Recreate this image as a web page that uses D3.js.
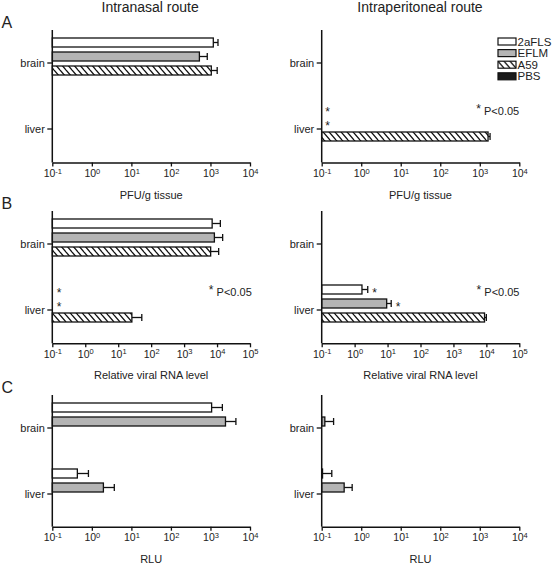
<!DOCTYPE html>
<html>
<head>
<meta charset="utf-8">
<script src="https://cdn.jsdelivr.net/npm/d3@7"></script>
<style>
  html, body { margin: 0; padding: 0; background: #fff; }
  svg { display: block; }
</style>
</head>
<body>
<svg id="chart" width="552" height="565"></svg>
<script>
// ---------------- DATA ----------------
const series = ["2aFLS", "EFLM", "A59", "PBS"];
const organs = ["brain", "liver"];
const routes = ["Intranasal route", "Intraperitoneal route"];
const panelLetters = ["A", "B", "C"];
const axisTitles = ["PFU/g tissue", "Relative viral RNA level", "RLU"];
const pfuExponents = [-1, 0, 1, 2, 3, 4];
const rnaExponents = [-1, 0, 1, 2, 3, 4, 5];
const rluExponents = [-1, 0, 1, 2, 3, 4];

// values: [organ][series]  (null = no bar)
const pfuNasal      = [[1180, 525, 1050, null], [null, null, null, null]];
const pfuNasalErr   = [[1550, 830, 1480, null], [null, null, null, null]];
const pfuPerit      = [[null, null, null, null], [null, null, 1620, null]];
const pfuPeritErr   = [[null, null, null, null], [null, null, 1820, null]];
const rnaNasal      = [[7100, 8300, 6400, null], [null, null, 26, null]];
const rnaNasalErr   = [[12600, 14800, 11200, null], [null, null, 52, null]];
const rnaPerit      = [[null, null, null, null], [1.67, 9.4, 8800, null]];
const rnaPeritErr   = [[null, null, null, null], [2.5, 12.9, 10000, null]];
const rluNasal      = [[1070, 2400, null, null], [0.43, 1.96, null, null]];
const rluNasalErr   = [[2000, 4400, null, null], [0.82, 3.7, null, null]];
const rluPerit      = [[null, 0.12, null, null], [0.105, 0.37, null, null]];
const rluPeritErr   = [[null, 0.2, null, null], [0.18, 0.59, null, null]];

// significance stars: [organ, series, x value]
const starsPfuPerit = [["liver", "2aFLS", 0.14], ["liver", "EFLM", 0.14]];
const starsRnaNasal = [["liver", "2aFLS", 0.16], ["liver", "EFLM", 0.16]];
const starsRnaPerit = [["liver", "2aFLS", 4.0], ["liver", "EFLM", 21]];
const noteText = "P<0.05";
// x value where the "* P<0.05" note sits (null = none)
const notePos = [[null, 930], [6600, 5900], [null, null]];

// ---------------- LAYOUT ----------------
const FONT = "Arial, 'Liberation Sans', Helvetica, sans-serif";
const cols = [{ x0: 52.3, x1: 250 }, { x0: 321.7, x1: 519.3 }];
const rows = [{ top: 30, h: 132.5 }, { top: 211, h: 132.3 }, { top: 395, h: 131.7 }];
const fills = { "2aFLS": "#ffffff", "EFLM": "#b4b4b4", "A59": "url(#hatch)", "PBS": "#1a1a1a" };
const INK = "#111";

const svg = d3.select("#chart").style("font-family", FONT);

const defs = svg.append("defs");
const pat = defs.append("pattern").attr("id", "hatch")
  .attr("patternUnits", "userSpaceOnUse").attr("width", 6).attr("height", 7);
pat.append("rect").attr("width", 6).attr("height", 7).attr("fill", "#fff");
pat.append("path").attr("d", "M0,0 L6,7 M-1,6 L1,8.33 M5,-1.17 L7,1.17")
  .attr("stroke", "#111").attr("stroke-width", 1.3);

const panelData = [
  [{ v: pfuNasal, e: pfuNasalErr, s: [] }, { v: pfuPerit, e: pfuPeritErr, s: starsPfuPerit }],
  [{ v: rnaNasal, e: rnaNasalErr, s: starsRnaNasal }, { v: rnaPerit, e: rnaPeritErr, s: starsRnaPerit }],
  [{ v: rluNasal, e: rluNasalErr, s: [] }, { v: rluPerit, e: rluPeritErr, s: [] }]
];
const exps = [pfuExponents, rnaExponents, rluExponents];

// titles
routes.forEach((r, ci) => {
  svg.append("text").attr("x", (cols[ci].x0 + cols[ci].x1) / 2 + (ci === 0 ? -1 : -0.5))
    .attr("y", 12).attr("text-anchor", "middle").attr("font-size", 14)
    .attr("fill", "#222").text(r);
});

panelLetters.forEach((L, ri) => {
  svg.append("text").attr("x", 1.5).attr("y", rows[ri].top - 2)
    .attr("font-size", 16).attr("fill", "#222").text(L);
});

rows.forEach((row, ri) => {
  const ex = exps[ri];
  cols.forEach((col, ci) => {
    const pd = panelData[ri][ci];
    const g = svg.append("g");
    const x = d3.scaleLog()
      .domain([Math.pow(10, ex[0]), Math.pow(10, ex[ex.length - 1])])
      .range([col.x0, col.x1]);
    const y = d3.scaleBand().domain(organs).range([row.top, row.top + 132]);
    const yi = d3.scaleBand().domain(series).range([-25, 26]).paddingInner(0.357).paddingOuter(0);
    const bottom = row.top + row.h;

    // bars
    organs.forEach((o, oi) => {
      series.forEach((s, si) => {
        const v = pd.v[oi][si];
        if (v == null) return;
        const cy = y(o) + y.bandwidth() / 2;
        const by = cy + yi(s);
        const bh = yi.bandwidth();
        const err = pd.e[oi][si];
        if (err != null) {
          const my = by + bh / 2;
          g.append("line").attr("x1", x(v)).attr("x2", x(err)).attr("y1", my).attr("y2", my)
            .attr("stroke", INK).attr("stroke-width", 1.3);
          g.append("line").attr("x1", x(err)).attr("x2", x(err)).attr("y1", my - 3.5).attr("y2", my + 3.5)
            .attr("stroke", INK).attr("stroke-width", 1.3);
        }
        g.append("rect").attr("x", x.range()[0]).attr("y", by)
          .attr("width", Math.max(0, x(v) - x.range()[0])).attr("height", bh)
          .attr("fill", fills[s]).attr("stroke", INK).attr("stroke-width", 1.3);
      });
    });

    // stars
    pd.s.forEach(([o, s, xv]) => {
      const cy = y(o) + y.bandwidth() / 2 + yi(s) + yi.bandwidth() / 2;
      g.append("text").attr("x", x(xv)).attr("y", cy + 7).attr("text-anchor", "middle")
        .attr("font-size", 12).attr("fill", "#222").text("*");
    });

    // note
    const np = notePos[ri][ci];
    if (np != null) {
      const ly = y("liver") + y.bandwidth() / 2;
      g.append("text").attr("x", x(np)).attr("y", ly - 16).attr("text-anchor", "middle")
        .attr("font-size", 12).attr("fill", "#222").text("*");
      g.append("text").attr("x", x(np) + 5.5).attr("y", ly - 14)
        .attr("font-size", 11).attr("fill", "#222").text(noteText);
    }

    // x axis
    const xa = g.append("g").attr("transform", `translate(0,${bottom})`)
      .call(d3.axisBottom(x).tickValues(ex.map(e => Math.pow(10, e)))
        .tickSize(4).tickSizeOuter(0).tickPadding(3).tickFormat(() => ""));
    xa.select(".domain").attr("stroke", INK).attr("stroke-width", 1.5);
    xa.selectAll(".tick line").attr("stroke", INK).attr("stroke-width", 1.3);
    xa.selectAll(".tick text").attr("font-size", 10.5).attr("fill", "#222").attr("font-family", FONT)
      .each(function (d, i) {
        const t = d3.select(this);
        t.append("tspan").text("10");
        t.append("tspan").attr("font-size", 7.5).attr("dy", "-0.45em").text(String(ex[i]));
      });

    // y axis
    const ya = g.append("g").attr("transform", `translate(${col.x0},0)`)
      .call(d3.axisLeft(y).tickSize(5).tickSizeOuter(0).tickPadding(2.5));
    ya.select(".domain").attr("stroke", INK).attr("stroke-width", 1.5)
      .attr("d", `M0,${row.top}V${bottom}`);
    ya.selectAll(".tick line").attr("stroke", INK).attr("stroke-width", 1.3);
    ya.selectAll(".tick text").attr("font-size", 11).attr("fill", "#222").attr("font-family", FONT);

    // axis title
    g.append("text").attr("x", (col.x0 + col.x1) / 2).attr("y", bottom + 36)
      .attr("text-anchor", "middle").attr("font-size", 11).attr("fill", "#222")
      .text(axisTitles[ri]);
  });
});

// legend
const lg = svg.append("g").attr("transform", "translate(498,38)");
series.forEach((s, i) => {
  const r = lg.append("g").attr("transform", `translate(0,${i * 11.6})`);
  r.append("rect").attr("x", 0).attr("y", 0).attr("width", 18).attr("height", 7)
    .attr("fill", fills[s]).attr("stroke", INK).attr("stroke-width", 1.2);
  r.append("text").attr("x", 19.5).attr("y", 3.5).attr("dy", "0.36em")
    .attr("font-size", 11.5).attr("fill", "#222").text(s);
});
</script>
</body>
</html>
